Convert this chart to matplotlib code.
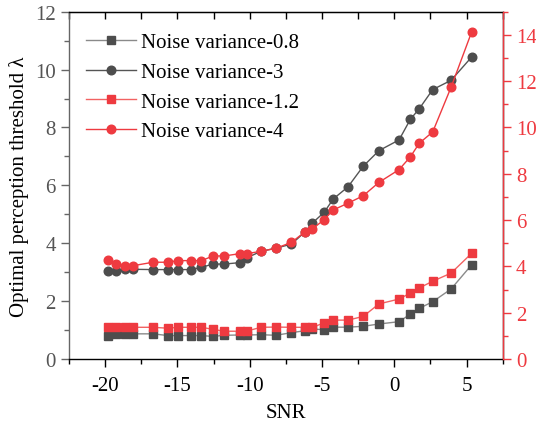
import matplotlib
matplotlib.use("Agg")
import matplotlib.pyplot as plt
from matplotlib.ticker import MultipleLocator

plt.rcParams['font.family'] = ['Liberation Serif', 'DejaVu Serif']
plt.rcParams['mathtext.fontset'] = 'stix'
plt.rcParams['axes.unicode_minus'] = False

# Data
snr = [-19.81, -19.23, -18.63, -18.07, -16.69, -15.65, -14.98, -14.03, -13.34, -12.53,
       -11.77, -10.69, -10.22, -9.23, -8.19, -7.11, -6.16, -5.66, -4.85, -4.22,
       -3.20, -2.15, -1.06, 0.33, 1.11, 1.73, 2.66, 3.93, 5.36]
var_08 = [0.78, 0.87, 0.87, 0.87, 0.87, 0.81, 0.81, 0.81, 0.81, 0.78,
          0.82, 0.83, 0.83, 0.84, 0.82, 0.91, 0.98, 1.04, 1.01, 1.10,
          1.10, 1.13, 1.21, 1.29, 1.55, 1.75, 1.98, 2.42, 3.26]
var_3 = [3.05, 3.05, 3.10, 3.10, 3.09, 3.09, 3.09, 3.09, 3.17, 3.28,
         3.28, 3.33, 3.49, 3.72, 3.83, 3.97, 4.40, 4.70, 5.07, 5.53,
         5.95, 6.66, 7.20, 7.57, 8.28, 8.65, 9.31, 9.63, 10.44]
var_12 = [1.37, 1.37, 1.37, 1.37, 1.37, 1.33, 1.37, 1.37, 1.37, 1.28,
          1.20, 1.20, 1.20, 1.37, 1.38, 1.37, 1.37, 1.37, 1.56, 1.68,
          1.68, 1.84, 2.38, 2.59, 2.85, 3.07, 3.36, 3.71, 4.57]
var_4 = [4.26, 4.09, 4.03, 4.03, 4.18, 4.18, 4.25, 4.25, 4.25, 4.45,
         4.45, 4.55, 4.55, 4.65, 4.78, 5.04, 5.50, 5.62, 6.02, 6.44,
         6.73, 7.05, 7.63, 8.18, 8.73, 9.32, 9.81, 11.74, 14.14]

gray = '#4d4d4d'
red = '#ee3a40'
fs = 15

fig = plt.figure(figsize=(5.36, 4.31), dpi=100)
ax = fig.add_axes([0.1287, 0.1647, 0.8092, 0.8058])
ax2 = ax.twinx()

l1, = ax.plot(snr, var_08, color='#8a8a8a', lw=1.0, marker='s', ms=5.5,
              mfc=gray, mec=gray, label='Noise variance-0.8')
l2, = ax.plot(snr, var_3, color='#555555', lw=1.0, marker='o', ms=6.2,
              mfc=gray, mec=gray, label='Noise variance-3')
l3, = ax2.plot(snr, var_12, color='#f26262', lw=1.0, marker='s', ms=5.5,
               mfc=red, mec=red, label='Noise variance-1.2')
l4, = ax2.plot(snr, var_4, color=red, lw=1.0, marker='o', ms=6.2,
               mfc=red, mec=red, label='Noise variance-4')

ax.set_xlim(-22.5, 7.5)
ax.set_ylim(0, 12)
ax2.set_ylim(0, 15)

ax.xaxis.set_major_locator(MultipleLocator(5))
ax.xaxis.set_minor_locator(MultipleLocator(2.5))
ax.yaxis.set_major_locator(MultipleLocator(2))
ax.yaxis.set_minor_locator(MultipleLocator(1))
ax2.yaxis.set_major_locator(MultipleLocator(2))
ax2.yaxis.set_minor_locator(MultipleLocator(1))

ax.tick_params(axis='x', which='major', direction='out', length=6, width=1, labelsize=fs, colors='black', pad=6)
ax.tick_params(axis='x', which='minor', direction='out', length=3.5, width=1)
ax.tick_params(axis='y', which='major', direction='out', length=6, width=1, labelsize=fs, color='#666666', labelcolor='#555555')
ax.tick_params(axis='y', which='minor', direction='out', length=3.5, width=1, color='#666666')
ax2.tick_params(axis='y', which='major', direction='out', length=6, width=1, labelsize=fs, colors=red)
ax2.tick_params(axis='y', which='minor', direction='out', length=3.5, width=1, colors=red)

# top axis with inward ticks
top = ax.secondary_xaxis('top')
top.xaxis.set_major_locator(MultipleLocator(2.5))
top.tick_params(direction='in', length=5, width=1, labeltop=False)

ax.spines['left'].set_color('#666666')
ax2.spines['right'].set_color(red)
for s in ['left', 'top', 'bottom']:
    ax2.spines[s].set_visible(False)
for s in ax.spines.values():
    s.set_linewidth(1)
ax2.spines['right'].set_linewidth(1)

ax.set_xlabel('SNR', fontsize=fs, labelpad=6)
ax.set_ylabel('Optimal perception threshold λ', fontsize=fs, labelpad=4)

ax2.legend(handles=[l1, l2, l3, l4], loc='upper left', bbox_to_anchor=(0.01, 0.975),
           frameon=False, fontsize=fs, handlelength=2.4, handletextpad=0.25,
           labelspacing=0.48, borderaxespad=0.2)

fig.savefig('out.png', dpi=100)
